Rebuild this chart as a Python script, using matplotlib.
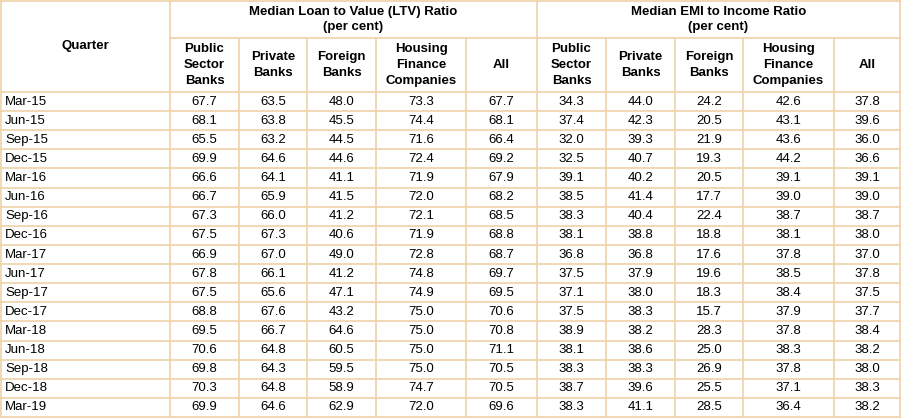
import matplotlib
matplotlib.use("Agg")
import matplotlib.pyplot as plt

quarters = ["Mar-15", "Jun-15", "Sep-15", "Dec-15", "Mar-16", "Jun-16", "Sep-16", "Dec-16", "Mar-17",
            "Jun-17", "Sep-17", "Dec-17", "Mar-18", "Jun-18", "Sep-18", "Dec-18", "Mar-19"]
sub_headers = ["Public\nSector\nBanks", "Private\nBanks", "Foreign\nBanks", "Housing\nFinance\nCompanies", "All"]
group_titles = ["Median Loan to Value (LTV) Ratio\n(per cent)", "Median EMI to Income Ratio\n(per cent)"]

ltv_psb = [67.7, 68.1, 65.5, 69.9, 66.6, 66.7, 67.3, 67.5, 66.9, 67.8, 67.5, 68.8, 69.5, 70.6, 69.8, 70.3, 69.9]
ltv_pvt = [63.5, 63.8, 63.2, 64.6, 64.1, 65.9, 66.0, 67.3, 67.0, 66.1, 65.6, 67.6, 66.7, 64.8, 64.3, 64.8, 64.6]
ltv_for = [48.0, 45.5, 44.5, 44.6, 41.1, 41.5, 41.2, 40.6, 49.0, 41.2, 47.1, 43.2, 64.6, 60.5, 59.5, 58.9, 62.9]
ltv_hfc = [73.3, 74.4, 71.6, 72.4, 71.9, 72.0, 72.1, 71.9, 72.8, 74.8, 74.9, 75.0, 75.0, 75.0, 75.0, 74.7, 72.0]
ltv_all = [67.7, 68.1, 66.4, 69.2, 67.9, 68.2, 68.5, 68.8, 68.7, 69.7, 69.5, 70.6, 70.8, 71.1, 70.5, 70.5, 69.6]
emi_psb = [34.3, 37.4, 32.0, 32.5, 39.1, 38.5, 38.3, 38.1, 36.8, 37.5, 37.1, 37.5, 38.9, 38.1, 38.3, 38.7, 38.3]
emi_pvt = [44.0, 42.3, 39.3, 40.7, 40.2, 41.4, 40.4, 38.8, 36.8, 37.9, 38.0, 38.3, 38.2, 38.6, 38.3, 39.6, 41.1]
emi_for = [24.2, 20.5, 21.9, 19.3, 20.5, 17.7, 22.4, 18.8, 17.6, 19.6, 18.3, 15.7, 28.3, 25.0, 26.9, 25.5, 28.5]
emi_hfc = [42.6, 43.1, 43.6, 44.2, 39.1, 39.0, 38.7, 38.1, 37.8, 38.5, 38.4, 37.9, 37.8, 38.3, 37.8, 37.1, 36.4]
emi_all = [37.8, 39.6, 36.0, 36.6, 39.1, 39.0, 38.7, 38.0, 37.0, 37.8, 37.5, 37.7, 38.4, 38.2, 38.0, 38.3, 38.2]

columns = [ltv_psb, ltv_pvt, ltv_for, ltv_hfc, ltv_all, emi_psb, emi_pvt, emi_for, emi_hfc, emi_all]

W, H = 902, 419
xs = [1, 170, 239, 307, 376, 466, 537, 606, 675, 743, 834, 900]
y_group, y_sub, y_data = 1, 38, 92
row_h = (417 - y_data) / len(quarters)
border = "#F0D2A8"
txt = "#000000"

plt.rcParams["font.family"] = ["Liberation Sans", "DejaVu Sans"]
fig = plt.figure(figsize=(W / 100, H / 100), dpi=100)
ax = fig.add_axes([0, 0, 1, 1])
ax.set_xlim(0, W)
ax.set_ylim(H, 0)
ax.axis("off")
fs = 9.5
lw = 1.2

y_end = y_data + row_h * len(quarters)
# horizontal lines
ax.plot([xs[0], xs[-1]], [y_group, y_group], color=border, lw=lw)
ax.plot([xs[1], xs[-1]], [y_sub, y_sub], color=border, lw=lw)
for i in range(len(quarters) + 1):
    y = y_data + i * row_h
    ax.plot([xs[0], xs[-1]], [y, y], color=border, lw=lw)
# vertical lines
for j, x in enumerate(xs):
    top = y_group if j in (0, 1, 6, 11) else y_sub
    ax.plot([x, x], [top, y_end], color=border, lw=lw)

ax.text((xs[0] + xs[1]) / 2, (y_group + y_data) / 2, "Quarter", ha="center", va="center",
        fontsize=fs, fontweight="bold", color=txt)
for g, title in enumerate(group_titles):
    x0, x1 = xs[1 + 5 * g], xs[6 + 5 * g]
    ax.text((x0 + x1) / 2, (y_group + y_sub) / 2, title, ha="center", va="center",
            fontsize=fs, fontweight="bold", color=txt, linespacing=1.3)
    for k, h in enumerate(sub_headers):
        c0, c1 = xs[1 + 5 * g + k], xs[2 + 5 * g + k]
        ax.text((c0 + c1) / 2, (y_sub + y_data) / 2, h, ha="center", va="center",
                fontsize=fs, fontweight="bold", color=txt, linespacing=1.4)

for i, q in enumerate(quarters):
    yc = y_data + (i + 0.5) * row_h
    ax.text(xs[0] + 4, yc, q, ha="left", va="center", fontsize=fs, color=txt)
    for c, col in enumerate(columns):
        ax.text((xs[c + 1] + xs[c + 2]) / 2, yc, f"{col[i]:.1f}", ha="center", va="center",
                fontsize=fs, color=txt)

fig.savefig("out.png", dpi=100)
